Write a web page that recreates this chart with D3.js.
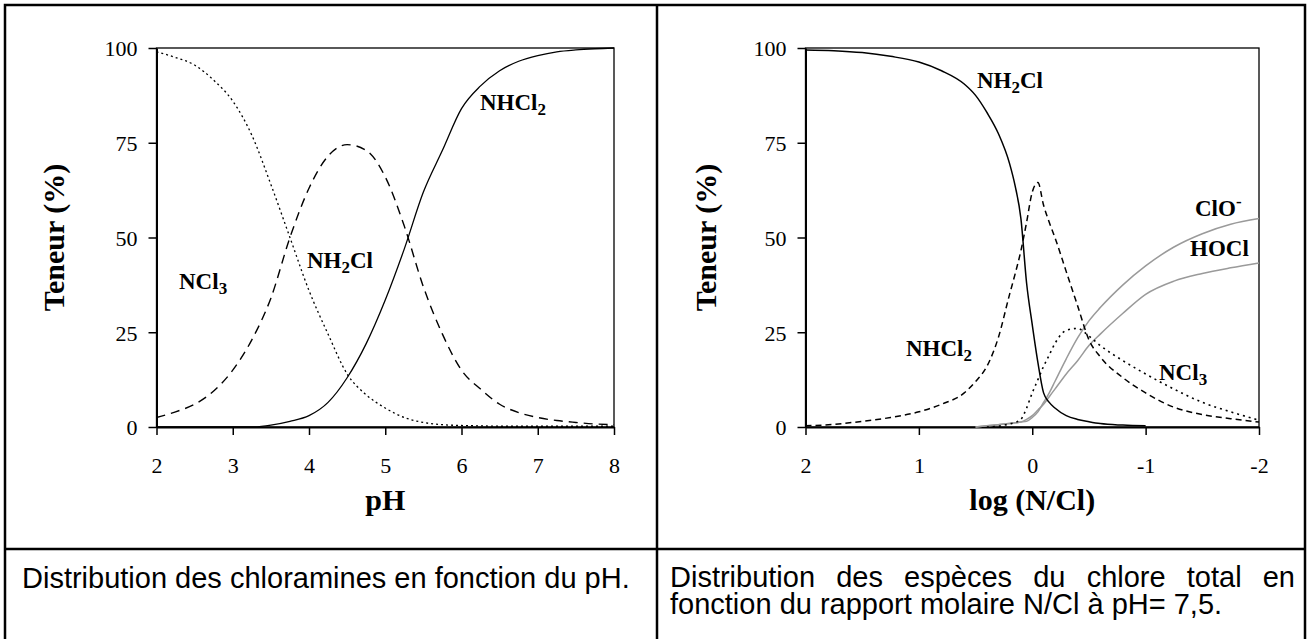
<!DOCTYPE html>
<html>
<head>
<meta charset="utf-8">
<script src="https://cdn.jsdelivr.net/npm/d3@7"></script>
<style>
  body { margin: 0; background: #fff; }
  svg { display: block; }
</style>
</head>
<body>
<div id="chart"></div>
<script>
// left panel: chloramines vs pH
var phValues = [2, 2.25, 2.5, 2.75, 3, 3.25, 3.5, 3.75, 4, 4.25, 4.5, 4.75, 5, 5.25, 5.5, 5.75, 6, 6.25, 6.5, 6.75, 7, 7.25, 7.5, 7.75, 8];
var phNCl3  = [99, 97.5, 95.5, 91.5, 86, 77, 64, 50, 36, 24.5, 14, 8.5, 5, 2.5, 1.2, 0.6, 0.4, 0.3, 0.2, 0.2, 0.2, 0.2, 0.2, 0.2, 0.2];
var phNH2Cl = [2.5, 4, 6, 9.5, 15, 23, 34, 50, 63, 71.5, 74.5, 73, 66, 53, 37, 24.5, 15, 10, 6, 3.8, 2.5, 1.7, 1.2, 0.8, 0.6];
var phNHCl2 = [0, 0, 0, 0, 0, 0, 0.5, 1.5, 3, 6.5, 13, 22, 33.5, 47, 62, 73, 84, 90, 94, 96.5, 98, 99, 99.5, 99.8, 100];
var phTicks = [2, 3, 4, 5, 6, 7, 8];

// right panel: species vs log(N/Cl) at pH 7.5
var logValues = [2, 1.75, 1.5, 1.25, 1, 0.8, 0.6, 0.5, 0.4, 0.3, 0.2, 0.15, 0.1, 0.05, 0, -0.05, -0.1, -0.15, -0.2, -0.3, -0.4, -0.5, -0.6, -0.8, -1, -1.25, -1.5, -1.75, -2];
var logNH2Cl = [99.5, 99.3, 98.8, 97.8, 96.3, 94, 90.5, 87.5, 83, 77.5, 69.5, 63.5, 55, 38, 27, 17, 9, 6.5, 5, 3, 2, 1.4, 0.9, 0.5, 0.3, null, null, null, null];
var logNHCl2 = [0.3, 0.7, 1.5, 2.5, 4, 6, 9, 12, 16, 23.5, 35, 40.5, 46.5, 54, 62, 64.5, 58.5, 54, 50, 41, 32, 23, 18.5, 13, 9, 5.2, 3.3, 2.2, 1.3];
var logNCl3  = [null, null, null, null, null, null, null, null, 0, 0.2, 0.8, 1.2, 2, 5, 9, 12.5, 16, 19, 22, 25.5, 26, 24, 21.5, 17.5, 14, 10, 6.5, 4, 1.8];
var logClO   = [null, null, null, null, null, null, null, 0, 0.3, 0.6, 0.9, 1.1, 1.3, 1.5, 2.5, 4, 6.5, 9, 12, 18, 23.5, 28, 31.5, 37.5, 42.5, 47.5, 51, 53.5, 55];
var logHOCl  = [null, null, null, null, null, null, null, 0, 0.3, 0.6, 0.9, 1.1, 1.3, 2, 3, 4.5, 6, 8, 10, 14, 17.5, 21.5, 24.5, 30, 35, 38.5, 40.5, 42, 43.3];
var logTicks = [2, 1, 0, -1, -2];

var yTicks = [0, 25, 50, 75, 100];

var serif = "'Liberation Serif', 'Times New Roman', serif";
var sans = "'Liberation Sans', Arial, sans-serif";

var svg = d3.select("#chart")
    .append("svg")
    .attr("width", 1311)
    .attr("height", 639);

// table frame
var frame = svg.append("g")
    .attr("stroke", "#000")
    .attr("stroke-width", 2.5)
    .attr("fill", "none");
frame.append("rect").attr("x", 5).attr("y", 5).attr("width", 1300).attr("height", 640);
frame.append("line").attr("x1", 5).attr("x2", 1305).attr("y1", 549).attr("y2", 549);
frame.append("line").attr("x1", 657).attr("x2", 657).attr("y1", 5).attr("y2", 645);

var plotTop = 48, plotBottom = 427;
var y = d3.scaleLinear().domain([0, 100]).range([plotBottom, plotTop]);

function drawPanel(opt) {
    var x = d3.scaleLinear().domain(opt.domain).range([opt.left, opt.right]);
    var g = svg.append("g");

    // plot box
    g.append("rect")
        .attr("x", opt.left).attr("y", plotTop)
        .attr("width", opt.right - opt.left).attr("height", plotBottom - plotTop)
        .attr("fill", "none").attr("stroke", "#000").attr("stroke-width", 1.3);

    // y axis
    var ya = g.append("g")
        .attr("transform", "translate(" + opt.left + ",0)")
        .call(d3.axisLeft(y).tickValues(yTicks).tickSize(8).tickSizeOuter(0));
    ya.select(".domain").attr("stroke-width", 2);
    ya.selectAll("line").attr("stroke-width", 1.5);
    ya.selectAll("text")
        .attr("x", -19).attr("dy", "0.36em")
        .style("font-family", serif).style("font-size", "22px").attr("fill", "#000");

    // x axis
    var xa = g.append("g")
        .attr("transform", "translate(0," + plotBottom + ")")
        .call(d3.axisBottom(x).tickValues(opt.ticks).tickSize(8).tickSizeOuter(0)
            .tickFormat(function (d) { return String(d); }));
    xa.select(".domain").attr("stroke-width", 2);
    xa.selectAll("line").attr("stroke-width", 1.5);
    xa.selectAll("text")
        .attr("y", 46).attr("dy", 0)
        .style("font-family", serif).style("font-size", "22px").attr("fill", "#000");

    // axis titles
    g.append("text")
        .attr("transform", "translate(" + opt.yTitleX + "," + ((plotTop + plotBottom) / 2) + ") rotate(-90)")
        .attr("text-anchor", "middle")
        .style("font-family", serif).style("font-size", "30px").style("font-weight", "bold")
        .text("Teneur (%)");
    g.append("text")
        .attr("x", (opt.left + opt.right) / 2).attr("y", 510)
        .attr("text-anchor", "middle")
        .style("font-family", serif).style("font-size", "30px").style("font-weight", "bold")
        .text(opt.xTitle);

    // curves
    opt.series.forEach(function (s) {
        var pts = opt.xs.map(function (v, i) { return [v, s.values[i]]; });
        var line = d3.line()
            .defined(function (d) { return d[1] !== null; })
            .x(function (d) { return x(d[0]); })
            .y(function (d) { return y(d[1]); })
            .curve(d3.curveMonotoneX);
        g.append("path")
            .datum(pts)
            .attr("d", line)
            .attr("fill", "none")
            .attr("stroke", s.color)
            .attr("stroke-width", s.width)
            .attr("stroke-dasharray", s.dash);
    });

    // species labels with sub/superscripts
    opt.labels.forEach(function (l) {
        var t = g.append("text")
            .attr("x", l.x).attr("y", l.y)
            .style("font-family", serif).style("font-size", "23px").style("font-weight", "bold");
        l.parts.forEach(function (p) {
            var ts = t.append("tspan").text(p[0]);
            if (p[1] === "sub") ts.attr("dy", 5).style("font-size", "17px");
            if (p[1] === "sup") ts.attr("dy", -9).style("font-size", "17px");
            if (p[1] === "back") ts.attr("dy", -5);
        });
    });
}

drawPanel({
    left: 156.5, right: 614, domain: [2, 8], ticks: phTicks, xs: phValues,
    yTitleX: 64, xTitle: "pH",
    series: [
        { values: phNCl3, color: "#000", width: 1.3, dash: "2,3" },
        { values: phNH2Cl, color: "#000", width: 1.4, dash: "9,6" },
        { values: phNHCl2, color: "#000", width: 1.3, dash: null }
    ],
    labels: [
        { x: 480, y: 110, parts: [["NHCl"], ["2", "sub"]] },
        { x: 307, y: 268, parts: [["NH"], ["2", "sub"], ["Cl", "back"]] },
        { x: 179, y: 289, parts: [["NCl"], ["3", "sub"]] }
    ]
});

drawPanel({
    left: 805.5, right: 1259, domain: [2, -2], ticks: logTicks, xs: logValues,
    yTitleX: 716, xTitle: "log (N/Cl)",
    series: [
        { values: logHOCl, color: "#9a9a9a", width: 1.5, dash: null },
        { values: logClO, color: "#9a9a9a", width: 1.5, dash: null },
        { values: logNCl3, color: "#000", width: 1.6, dash: "2,4" },
        { values: logNHCl2, color: "#000", width: 1.5, dash: "6,4" },
        { values: logNH2Cl, color: "#000", width: 1.5, dash: null }
    ],
    labels: [
        { x: 977, y: 88, parts: [["NH"], ["2", "sub"], ["Cl", "back"]] },
        { x: 1195, y: 216, parts: [["ClO"], ["-", "sup"]] },
        { x: 1190, y: 256, parts: [["HOCl"]] },
        { x: 906, y: 356, parts: [["NHCl"], ["2", "sub"]] },
        { x: 1159, y: 380, parts: [["NCl"], ["3", "sub"]] }
    ]
});

// captions
svg.append("text")
    .attr("x", 22).attr("y", 588)
    .style("font-family", sans).style("font-size", "29px")
    .text("Distribution des chloramines en fonction du pH.");

// justified first line, ragged last line
function justifiedLine(words, x0, x1, yPos) {
    var t = svg.append("text").attr("y", yPos)
        .style("font-family", sans).style("font-size", "29px");
    var spans = words.map(function (w) { return t.append("tspan").text(w); });
    var widths = spans.map(function (s) { return s.node().getComputedTextLength(); });
    var total = d3.sum(widths);
    var gap = (x1 - x0 - total) / (words.length - 1);
    var cx = x0;
    spans.forEach(function (s, i) {
        s.attr("x", cx);
        cx += widths[i] + gap;
    });
}
justifiedLine(["Distribution", "des", "espèces", "du", "chlore", "total", "en"], 670, 1295, 587);
svg.append("text")
    .attr("x", 670).attr("y", 614)
    .style("font-family", sans).style("font-size", "29px")
    .text("fonction du rapport molaire N/Cl à pH= 7,5.");
</script>
</body>
</html>
